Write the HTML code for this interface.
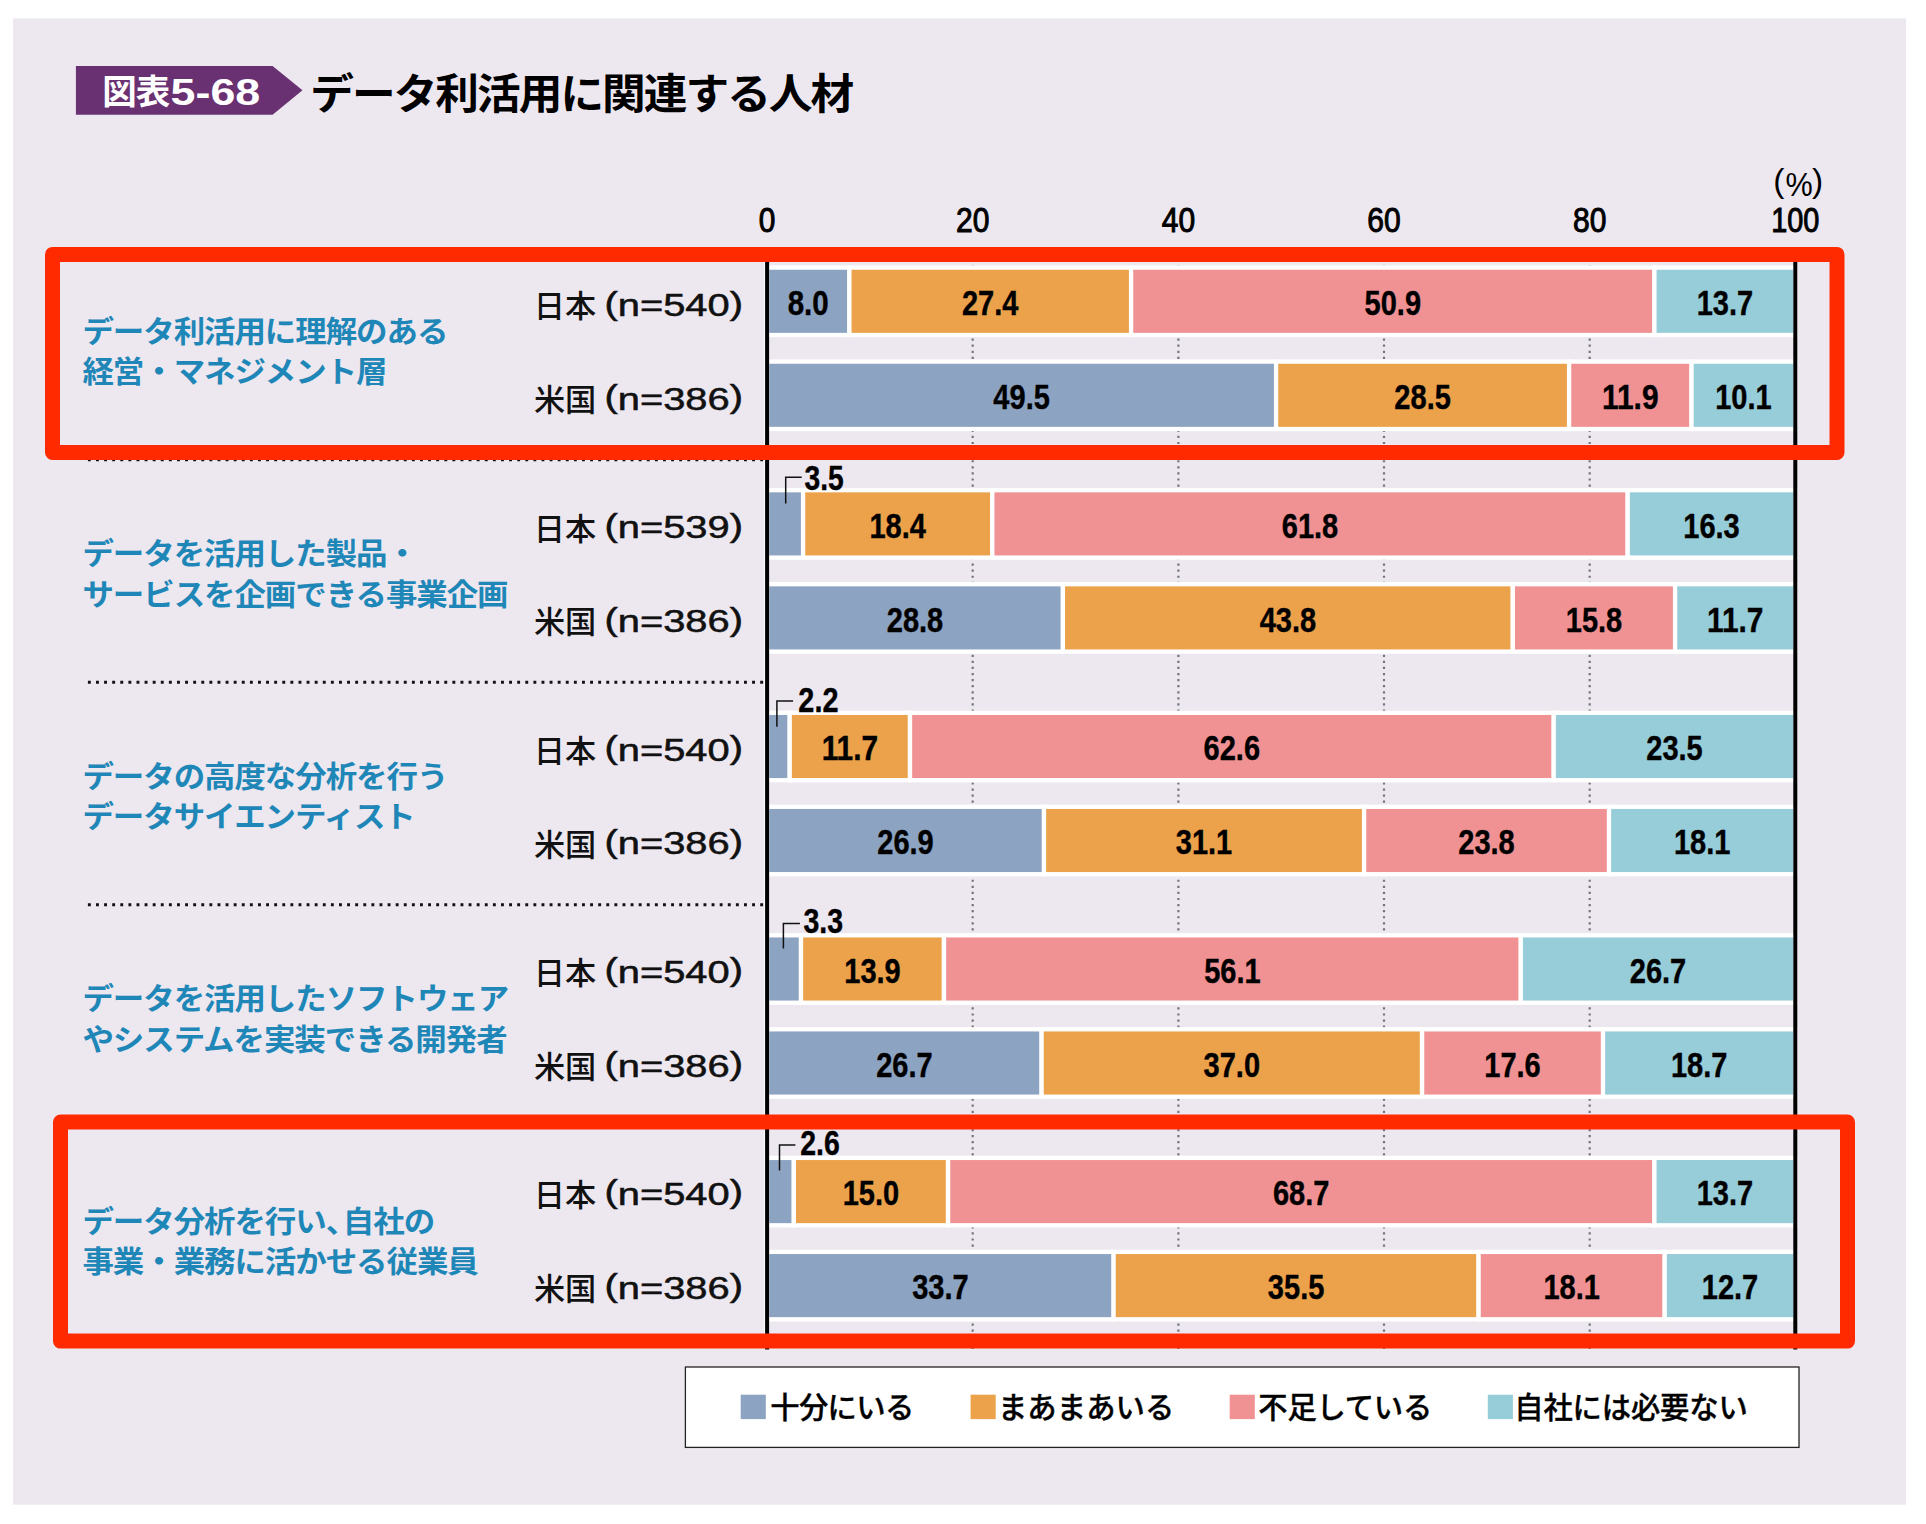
<!DOCTYPE html>
<html lang="ja"><head><meta charset="utf-8"><title>図表5-68 データ利活用に関連する人材</title>
<style>html,body{margin:0;padding:0;background:#fff}body{width:1926px;height:1524px;overflow:hidden}svg{display:block}
text{font-family:"Liberation Sans","Noto Sans CJK JP",sans-serif}
.v{font-family:"Liberation Sans",sans-serif;font-weight:700;font-size:35.6px;text-anchor:middle;stroke:#000;stroke-width:0.4px}
.ax{font-family:"Liberation Sans",sans-serif;font-weight:400;font-size:34.2px;text-anchor:middle;stroke:#000;stroke-width:1px}
.gl{font-family:"Liberation Sans","Noto Sans CJK JP",sans-serif;font-weight:700;font-size:29.6px;letter-spacing:-1px;fill:#1F87B7}
.rl{font-family:"Liberation Sans","Noto Sans CJK JP",sans-serif;font-weight:500;font-size:31.2px;fill:#111}
.rn{font-family:"Liberation Sans",sans-serif;font-weight:400;font-size:30.5px;fill:#111;stroke:#111;stroke-width:0.5px}
.lg{font-family:"Liberation Sans","Noto Sans CJK JP",sans-serif;font-weight:500;font-size:29.3px;fill:#000;stroke:#000;stroke-width:0.35px}
</style></head><body>
<svg width="1926" height="1524" viewBox="0 0 1926 1524">
<rect x="0" y="0" width="1926" height="1524" fill="#fff"/>
<rect x="13" y="18.4" width="1893" height="1486.3" fill="#EDE8F0"/>
<path d="M75.9 65.9H272.6L302.5 90.3L272.6 114.8H75.9Z" fill="#6A3172"/>
<text x="102.2" y="103.9" fill="#fff" style="font-family:'Liberation Sans','Noto Sans CJK JP',sans-serif;font-weight:700;font-size:34.5px;letter-spacing:-1px">図表</text>
<text x="170.6" y="104.5" fill="#fff" style="font-family:'Liberation Sans',sans-serif;font-weight:700;font-size:36px" textLength="89.6" lengthAdjust="spacingAndGlyphs">5-68</text>
<text transform="translate(310.3 108.8) scale(1.05 1)" fill="#000" style="font-family:'Liberation Sans','Noto Sans CJK JP',sans-serif;font-weight:700;font-size:41.6px;letter-spacing:-1.89px">データ利活用に関連する人材</text>
<text class="ax" x="767.1" y="231.5" textLength="16.6" lengthAdjust="spacingAndGlyphs">0</text>
<text class="ax" x="972.7" y="231.5" textLength="33.4" lengthAdjust="spacingAndGlyphs">20</text>
<text class="ax" x="1178.4" y="231.5" textLength="33.4" lengthAdjust="spacingAndGlyphs">40</text>
<text class="ax" x="1384.0" y="231.5" textLength="33.4" lengthAdjust="spacingAndGlyphs">60</text>
<text class="ax" x="1589.7" y="231.5" textLength="33.4" lengthAdjust="spacingAndGlyphs">80</text>
<text class="ax" x="1795.3" y="231.5" textLength="48.2" lengthAdjust="spacingAndGlyphs">100</text>
<text style="font-family:'Liberation Sans',sans-serif;font-size:33.5px"><tspan x="1773.3" y="191.8">(</tspan><tspan x="1785.5" y="196" textLength="27.2" lengthAdjust="spacingAndGlyphs">%</tspan><tspan x="1812.1" y="191.8">)</tspan></text>
<line x1="972.7" y1="259.5" x2="972.7" y2="1349" stroke="#76737A" stroke-width="2.2" stroke-dasharray="2.2 3.88"/>
<line x1="1178.4" y1="259.5" x2="1178.4" y2="1349" stroke="#76737A" stroke-width="2.2" stroke-dasharray="2.2 3.88"/>
<line x1="1384.0" y1="259.5" x2="1384.0" y2="1349" stroke="#76737A" stroke-width="2.2" stroke-dasharray="2.2 3.88"/>
<line x1="1589.7" y1="259.5" x2="1589.7" y2="1349" stroke="#76737A" stroke-width="2.2" stroke-dasharray="2.2 3.88"/>
<line x1="87.9" y1="459.7" x2="765" y2="459.7" stroke="#111" stroke-width="2.9" stroke-dasharray="2.9 5.2"/>
<line x1="87.9" y1="682.3" x2="765" y2="682.3" stroke="#111" stroke-width="2.9" stroke-dasharray="2.9 5.2"/>
<line x1="87.9" y1="904.8" x2="765" y2="904.8" stroke="#111" stroke-width="2.9" stroke-dasharray="2.9 5.2"/>
<line x1="87.9" y1="1127.3" x2="765" y2="1127.3" stroke="#111" stroke-width="2.9" stroke-dasharray="2.9 5.2"/>
<rect x="767.1" y="267.6" width="82.3" height="67.4" fill="#8CA3C2" stroke="#fff" stroke-width="4.3"/>
<text class="v" x="808.2" y="315.0" textLength="41.0" lengthAdjust="spacingAndGlyphs">8.0</text>
<rect x="849.4" y="267.6" width="281.7" height="67.4" fill="#ECA14B" stroke="#fff" stroke-width="4.3"/>
<text class="v" x="990.2" y="315.0" textLength="56.5" lengthAdjust="spacingAndGlyphs">27.4</text>
<rect x="1131.1" y="267.6" width="523.4" height="67.4" fill="#F09294" stroke="#fff" stroke-width="4.3"/>
<text class="v" x="1392.8" y="315.0" textLength="56.5" lengthAdjust="spacingAndGlyphs">50.9</text>
<rect x="1654.4" y="267.6" width="140.9" height="67.4" fill="#97CCD9" stroke="#fff" stroke-width="4.3"/>
<text class="v" x="1724.9" y="315.0" textLength="56.5" lengthAdjust="spacingAndGlyphs">13.7</text>
<rect x="767.1" y="361.6" width="509.0" height="67.4" fill="#8CA3C2" stroke="#fff" stroke-width="4.3"/>
<text class="v" x="1021.6" y="409.0" textLength="56.5" lengthAdjust="spacingAndGlyphs">49.5</text>
<rect x="1276.1" y="361.6" width="293.0" height="67.4" fill="#ECA14B" stroke="#fff" stroke-width="4.3"/>
<text class="v" x="1422.6" y="409.0" textLength="56.5" lengthAdjust="spacingAndGlyphs">28.5</text>
<rect x="1569.1" y="361.6" width="122.4" height="67.4" fill="#F09294" stroke="#fff" stroke-width="4.3"/>
<text class="v" x="1630.3" y="409.0" textLength="56.5" lengthAdjust="spacingAndGlyphs">11.9</text>
<rect x="1691.5" y="361.6" width="103.8" height="67.4" fill="#97CCD9" stroke="#fff" stroke-width="4.3"/>
<text class="v" x="1743.4" y="409.0" textLength="56.5" lengthAdjust="spacingAndGlyphs">10.1</text>
<rect x="767.1" y="490.2" width="36.0" height="67.4" fill="#8CA3C2" stroke="#fff" stroke-width="4.3"/>
<rect x="803.1" y="490.2" width="189.2" height="67.4" fill="#ECA14B" stroke="#fff" stroke-width="4.3"/>
<text class="v" x="897.7" y="537.5" textLength="56.5" lengthAdjust="spacingAndGlyphs">18.4</text>
<rect x="992.3" y="490.2" width="635.4" height="67.4" fill="#F09294" stroke="#fff" stroke-width="4.3"/>
<text class="v" x="1310.0" y="537.5" textLength="56.5" lengthAdjust="spacingAndGlyphs">61.8</text>
<rect x="1627.7" y="490.2" width="167.6" height="67.4" fill="#97CCD9" stroke="#fff" stroke-width="4.3"/>
<text class="v" x="1711.5" y="537.5" textLength="56.5" lengthAdjust="spacingAndGlyphs">16.3</text>
<rect x="767.1" y="584.2" width="295.8" height="67.4" fill="#8CA3C2" stroke="#fff" stroke-width="4.3"/>
<text class="v" x="915.0" y="631.5" textLength="56.5" lengthAdjust="spacingAndGlyphs">28.8</text>
<rect x="1062.9" y="584.2" width="449.9" height="67.4" fill="#ECA14B" stroke="#fff" stroke-width="4.3"/>
<text class="v" x="1287.9" y="631.5" textLength="56.5" lengthAdjust="spacingAndGlyphs">43.8</text>
<rect x="1512.8" y="584.2" width="162.3" height="67.4" fill="#F09294" stroke="#fff" stroke-width="4.3"/>
<text class="v" x="1594.0" y="631.5" textLength="56.5" lengthAdjust="spacingAndGlyphs">15.8</text>
<rect x="1675.1" y="584.2" width="120.2" height="67.4" fill="#97CCD9" stroke="#fff" stroke-width="4.3"/>
<text class="v" x="1735.2" y="631.5" textLength="56.5" lengthAdjust="spacingAndGlyphs">11.7</text>
<rect x="767.1" y="712.8" width="22.6" height="67.4" fill="#8CA3C2" stroke="#fff" stroke-width="4.3"/>
<rect x="789.7" y="712.8" width="120.3" height="67.4" fill="#ECA14B" stroke="#fff" stroke-width="4.3"/>
<text class="v" x="849.9" y="760.1" textLength="56.5" lengthAdjust="spacingAndGlyphs">11.7</text>
<rect x="910.0" y="712.8" width="643.7" height="67.4" fill="#F09294" stroke="#fff" stroke-width="4.3"/>
<text class="v" x="1231.8" y="760.1" textLength="56.5" lengthAdjust="spacingAndGlyphs">62.6</text>
<rect x="1553.7" y="712.8" width="241.6" height="67.4" fill="#97CCD9" stroke="#fff" stroke-width="4.3"/>
<text class="v" x="1674.5" y="760.1" textLength="56.5" lengthAdjust="spacingAndGlyphs">23.5</text>
<rect x="767.1" y="806.8" width="276.9" height="67.4" fill="#8CA3C2" stroke="#fff" stroke-width="4.3"/>
<text class="v" x="905.5" y="854.1" textLength="56.5" lengthAdjust="spacingAndGlyphs">26.9</text>
<rect x="1044.0" y="806.8" width="320.1" height="67.4" fill="#ECA14B" stroke="#fff" stroke-width="4.3"/>
<text class="v" x="1204.0" y="854.1" textLength="56.5" lengthAdjust="spacingAndGlyphs">31.1</text>
<rect x="1364.1" y="806.8" width="245.0" height="67.4" fill="#F09294" stroke="#fff" stroke-width="4.3"/>
<text class="v" x="1486.5" y="854.1" textLength="56.5" lengthAdjust="spacingAndGlyphs">23.8</text>
<rect x="1609.0" y="806.8" width="186.3" height="67.4" fill="#97CCD9" stroke="#fff" stroke-width="4.3"/>
<text class="v" x="1702.2" y="854.1" textLength="56.5" lengthAdjust="spacingAndGlyphs">18.1</text>
<rect x="767.1" y="935.3" width="33.9" height="67.4" fill="#8CA3C2" stroke="#fff" stroke-width="4.3"/>
<rect x="801.0" y="935.3" width="142.9" height="67.4" fill="#ECA14B" stroke="#fff" stroke-width="4.3"/>
<text class="v" x="872.5" y="982.6" textLength="56.5" lengthAdjust="spacingAndGlyphs">13.9</text>
<rect x="944.0" y="935.3" width="576.8" height="67.4" fill="#F09294" stroke="#fff" stroke-width="4.3"/>
<text class="v" x="1232.4" y="982.6" textLength="56.5" lengthAdjust="spacingAndGlyphs">56.1</text>
<rect x="1520.8" y="935.3" width="274.5" height="67.4" fill="#97CCD9" stroke="#fff" stroke-width="4.3"/>
<text class="v" x="1658.0" y="982.6" textLength="56.5" lengthAdjust="spacingAndGlyphs">26.7</text>
<rect x="767.1" y="1029.3" width="274.5" height="67.4" fill="#8CA3C2" stroke="#fff" stroke-width="4.3"/>
<text class="v" x="904.4" y="1076.6" textLength="56.5" lengthAdjust="spacingAndGlyphs">26.7</text>
<rect x="1041.6" y="1029.3" width="380.4" height="67.4" fill="#ECA14B" stroke="#fff" stroke-width="4.3"/>
<text class="v" x="1231.8" y="1076.6" textLength="56.5" lengthAdjust="spacingAndGlyphs">37.0</text>
<rect x="1422.1" y="1029.3" width="181.0" height="67.4" fill="#F09294" stroke="#fff" stroke-width="4.3"/>
<text class="v" x="1512.5" y="1076.6" textLength="56.5" lengthAdjust="spacingAndGlyphs">17.6</text>
<rect x="1603.0" y="1029.3" width="192.3" height="67.4" fill="#97CCD9" stroke="#fff" stroke-width="4.3"/>
<text class="v" x="1699.2" y="1076.6" textLength="56.5" lengthAdjust="spacingAndGlyphs">18.7</text>
<rect x="767.1" y="1157.9" width="26.7" height="67.4" fill="#8CA3C2" stroke="#fff" stroke-width="4.3"/>
<rect x="793.8" y="1157.9" width="154.2" height="67.4" fill="#ECA14B" stroke="#fff" stroke-width="4.3"/>
<text class="v" x="870.9" y="1205.1" textLength="56.5" lengthAdjust="spacingAndGlyphs">15.0</text>
<rect x="948.1" y="1157.9" width="706.4" height="67.4" fill="#F09294" stroke="#fff" stroke-width="4.3"/>
<text class="v" x="1301.2" y="1205.1" textLength="56.5" lengthAdjust="spacingAndGlyphs">68.7</text>
<rect x="1654.4" y="1157.9" width="140.9" height="67.4" fill="#97CCD9" stroke="#fff" stroke-width="4.3"/>
<text class="v" x="1724.9" y="1205.1" textLength="56.5" lengthAdjust="spacingAndGlyphs">13.7</text>
<rect x="767.1" y="1251.9" width="346.5" height="67.4" fill="#8CA3C2" stroke="#fff" stroke-width="4.3"/>
<text class="v" x="940.4" y="1299.1" textLength="56.5" lengthAdjust="spacingAndGlyphs">33.7</text>
<rect x="1113.6" y="1251.9" width="365.0" height="67.4" fill="#ECA14B" stroke="#fff" stroke-width="4.3"/>
<text class="v" x="1296.1" y="1299.1" textLength="56.5" lengthAdjust="spacingAndGlyphs">35.5</text>
<rect x="1478.6" y="1251.9" width="186.1" height="67.4" fill="#F09294" stroke="#fff" stroke-width="4.3"/>
<text class="v" x="1571.7" y="1299.1" textLength="56.5" lengthAdjust="spacingAndGlyphs">18.1</text>
<rect x="1664.7" y="1251.9" width="130.6" height="67.4" fill="#97CCD9" stroke="#fff" stroke-width="4.3"/>
<text class="v" x="1730.0" y="1299.1" textLength="56.5" lengthAdjust="spacingAndGlyphs">12.7</text>
<path d="M785.7 503.4V477.2H801.7" fill="none" stroke="#111" stroke-width="1.5"/>
<text class="v" x="824.1" y="489.8" textLength="39.2" lengthAdjust="spacingAndGlyphs">3.5</text>
<path d="M776.9 726.8V701.1H793.1" fill="none" stroke="#111" stroke-width="1.5"/>
<text class="v" x="818.4" y="712.2" textLength="40.1" lengthAdjust="spacingAndGlyphs">2.2</text>
<path d="M783.4 948.5V923.4H799.9" fill="none" stroke="#111" stroke-width="1.5"/>
<text class="v" x="823.2" y="932.9" textLength="39.6" lengthAdjust="spacingAndGlyphs">3.3</text>
<path d="M779.5 1170.6V1145.1H795.4" fill="none" stroke="#111" stroke-width="1.5"/>
<text class="v" x="820.0" y="1154.9" textLength="39.5" lengthAdjust="spacingAndGlyphs">2.6</text>
<line x1="764.7" y1="262" x2="764.7" y2="1349" stroke="#fff" stroke-width="0.9"/>
<line x1="767.1" y1="262" x2="767.1" y2="1349.4" stroke="#000" stroke-width="4"/>
<line x1="1795.3" y1="262" x2="1795.3" y2="1349.4" stroke="#000" stroke-width="4"/>
<text class="gl" transform="translate(82.4 341.5) scale(1.0637 1)">データ利活用に理解のある</text>
<text class="gl" transform="translate(82.4 382.0) scale(1.0637 1)">経営・マネジメント層</text>
<text class="rl" x="533.8" y="317.4">日本</text>
<text class="rn" x="604.5" y="316.2" textLength="138.5" lengthAdjust="spacingAndGlyphs"><tspan dy="-2.5">(</tspan><tspan dy="2.5">n=540</tspan><tspan dy="-2.5">)</tspan></text>
<text class="rl" x="533.9" y="410.9">米国</text>
<text class="rn" x="604.5" y="409.7" textLength="138.5" lengthAdjust="spacingAndGlyphs"><tspan dy="-2.5">(</tspan><tspan dy="2.5">n=386</tspan><tspan dy="-2.5">)</tspan></text>
<text class="gl" transform="translate(82.4 564.0) scale(1.0637 1)">データを活用した製品・</text>
<text class="gl" transform="translate(82.4 604.5) scale(1.0637 1)">サービスを企画できる事業企画</text>
<text class="rl" x="533.8" y="539.6">日本</text>
<text class="rn" x="604.5" y="538.4" textLength="138.5" lengthAdjust="spacingAndGlyphs"><tspan dy="-2.5">(</tspan><tspan dy="2.5">n=539</tspan><tspan dy="-2.5">)</tspan></text>
<text class="rl" x="533.9" y="633.2">米国</text>
<text class="rn" x="604.5" y="632.0" textLength="138.5" lengthAdjust="spacingAndGlyphs"><tspan dy="-2.5">(</tspan><tspan dy="2.5">n=386</tspan><tspan dy="-2.5">)</tspan></text>
<text class="gl" transform="translate(82.4 786.6) scale(1.0637 1)">データの高度な分析を行う</text>
<text class="gl" transform="translate(82.4 827.1) scale(1.0637 1)">データサイエンティスト</text>
<text class="rl" x="533.8" y="761.8">日本</text>
<text class="rn" x="604.5" y="760.6" textLength="138.5" lengthAdjust="spacingAndGlyphs"><tspan dy="-2.5">(</tspan><tspan dy="2.5">n=540</tspan><tspan dy="-2.5">)</tspan></text>
<text class="rl" x="533.9" y="855.5">米国</text>
<text class="rn" x="604.5" y="854.3" textLength="138.5" lengthAdjust="spacingAndGlyphs"><tspan dy="-2.5">(</tspan><tspan dy="2.5">n=386</tspan><tspan dy="-2.5">)</tspan></text>
<text class="gl" transform="translate(82.4 1009.2) scale(1.0637 1)">データを活用したソフトウェア</text>
<text class="gl" transform="translate(82.4 1049.7) scale(1.0637 1)">やシステムを実装できる開発者</text>
<text class="rl" x="533.8" y="983.9">日本</text>
<text class="rn" x="604.5" y="982.7" textLength="138.5" lengthAdjust="spacingAndGlyphs"><tspan dy="-2.5">(</tspan><tspan dy="2.5">n=540</tspan><tspan dy="-2.5">)</tspan></text>
<text class="rl" x="533.9" y="1077.8">米国</text>
<text class="rn" x="604.5" y="1076.6" textLength="138.5" lengthAdjust="spacingAndGlyphs"><tspan dy="-2.5">(</tspan><tspan dy="2.5">n=386</tspan><tspan dy="-2.5">)</tspan></text>
<text class="gl" transform="translate(82.4 1231.7) scale(1.0637 1)">データ分析を行い<tspan letter-spacing="-13.5">、</tspan>自社の</text>
<text class="gl" transform="translate(82.4 1272.2) scale(1.0637 1)">事業・業務に活かせる従業員</text>
<text class="rl" x="533.8" y="1206.1">日本</text>
<text class="rn" x="604.5" y="1204.9" textLength="138.5" lengthAdjust="spacingAndGlyphs"><tspan dy="-2.5">(</tspan><tspan dy="2.5">n=540</tspan><tspan dy="-2.5">)</tspan></text>
<text class="rl" x="533.9" y="1300.1">米国</text>
<text class="rn" x="604.5" y="1298.9" textLength="138.5" lengthAdjust="spacingAndGlyphs"><tspan dy="-2.5">(</tspan><tspan dy="2.5">n=386</tspan><tspan dy="-2.5">)</tspan></text>
<rect x="685.4" y="1367" width="1113.6" height="80.4" fill="#fff" stroke="#222" stroke-width="1.3"/>
<rect x="740.7" y="1394.7" width="25.1" height="24.4" fill="#8CA3C2"/>
<text class="lg" x="770.3" y="1418.4" textLength="143.9" lengthAdjust="spacing">十分にいる</text>
<rect x="970.6" y="1394.7" width="25.1" height="24.4" fill="#ECA14B"/>
<text class="lg" x="997.9" y="1418.4" textLength="176.4" lengthAdjust="spacing">まあまあいる</text>
<rect x="1229.7" y="1394.7" width="25.1" height="24.4" fill="#F09294"/>
<text class="lg" x="1258.3" y="1418.4" textLength="173.9" lengthAdjust="spacing">不足している</text>
<rect x="1487.8" y="1394.7" width="25.1" height="24.4" fill="#97CCD9"/>
<text class="lg" x="1514.3" y="1418.4" textLength="233.4" lengthAdjust="spacing">自社には必要ない</text>
<rect x="52.5" y="254.4" width="1784.5" height="198" fill="none" stroke="#FF2A00" stroke-width="15" stroke-linejoin="round"/>
<rect x="60.5" y="1122" width="1787" height="219.1" fill="none" stroke="#FF2A00" stroke-width="15" stroke-linejoin="round"/>
</svg></body></html>
